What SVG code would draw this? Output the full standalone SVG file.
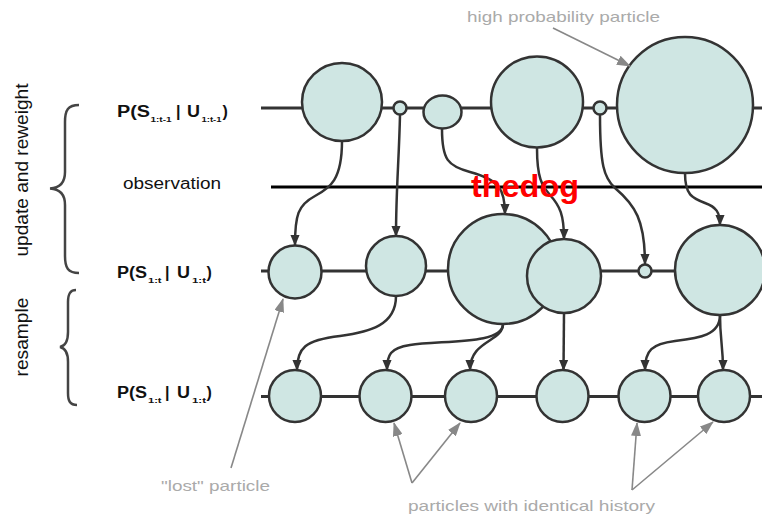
<svg xmlns="http://www.w3.org/2000/svg" width="762" height="517" viewBox="0 0 762 517">
<style>
.row{stroke:#333;stroke-width:3;fill:none}
.node{fill:#cfe6e3;stroke:#333;stroke-width:2.5}
.conn{fill:none;stroke:#333;stroke-width:2.5;marker-end:url(#ah)}
.gray{fill:none;stroke:#888;stroke-width:1.6;marker-end:url(#gh)}
.lbl{font-family:"Liberation Sans",Arial,sans-serif;font-weight:bold;font-size:16px;fill:#111}
.sub{font-family:"Liberation Sans",Arial,sans-serif;font-weight:bold;font-size:8px;fill:#111}
.txt{font-family:"Liberation Sans",Arial,sans-serif;font-size:16px;fill:#111}
.side{font-family:"Liberation Sans",Arial,sans-serif;font-size:18px;fill:#111}
.note{font-family:"Liberation Sans",Arial,sans-serif;font-size:15px;fill:#aaa}
.brace{fill:none;stroke:#444;stroke-width:2.5}
</style>
<defs>
<marker id="ah" viewBox="0 0 12 10" refX="11" refY="5" markerWidth="11" markerHeight="11" markerUnits="userSpaceOnUse" orient="auto">
<path d="M0,0 L12,5 L0,10 z" fill="#333"/>
</marker>
<marker id="gh" viewBox="0 0 14 10" refX="13" refY="5" markerWidth="14" markerHeight="10" markerUnits="userSpaceOnUse" orient="auto">
<path d="M0,0 L14,5 L0,10 z" fill="#888"/>
</marker>
</defs>

<!-- side labels and braces -->
<g id="side-labels">
<text class="side" transform="translate(28,256.5) rotate(-90)" textLength="173" lengthAdjust="spacingAndGlyphs">update and reweight</text>
<text class="side" transform="translate(28,376.5) rotate(-90)" textLength="79" lengthAdjust="spacingAndGlyphs">resample</text>
<path class="brace" d="M79,105 C68,105 65,110 65,122 L65,172 C65,182 60,188 50,188.5 C60,189 65,195 65,205 L65,256 C65,268 68,273 79,273"/>
<path class="brace" d="M76,290 C70,290 68,294 68,302 L68,332 C68,341 65,346 60,347 C65,348 68,353 68,362 L68,393 C68,401 70,405 77,405"/>
</g>

<!-- row labels -->
<g id="label-row1">
<text class="lbl" x="117" y="116.5" textLength="33" lengthAdjust="spacingAndGlyphs">P(S</text>
<text class="sub" x="150.5" y="121.5" textLength="21" lengthAdjust="spacingAndGlyphs">1:t-1</text>
<text class="lbl" x="176" y="116.5">|</text>
<text class="lbl" x="187" y="116.5" textLength="13" lengthAdjust="spacingAndGlyphs">U</text>
<text class="sub" x="201.5" y="121.5" textLength="20" lengthAdjust="spacingAndGlyphs">1:t-1</text>
<text class="lbl" x="222.5" y="116.5">)</text>
</g>
<g id="label-observation">
<text class="txt" x="123" y="188.5" textLength="98" lengthAdjust="spacingAndGlyphs">observation</text>
</g>
<g id="label-row2">
<text class="lbl" x="117" y="278.3" textLength="30" lengthAdjust="spacingAndGlyphs">P(S</text>
<text class="sub" x="148" y="282.5" textLength="13.5" lengthAdjust="spacingAndGlyphs">1:t</text>
<text class="lbl" x="165" y="278.3">|</text>
<text class="lbl" x="177" y="278.3" textLength="13" lengthAdjust="spacingAndGlyphs">U</text>
<text class="sub" x="192" y="282.5" textLength="14" lengthAdjust="spacingAndGlyphs">1:t</text>
<text class="lbl" x="206.5" y="278.3">)</text>
</g>
<g id="label-row3">
<text class="lbl" x="117" y="398.3" textLength="30" lengthAdjust="spacingAndGlyphs">P(S</text>
<text class="sub" x="148" y="402.5" textLength="13.5" lengthAdjust="spacingAndGlyphs">1:t</text>
<text class="lbl" x="165" y="398.3">|</text>
<text class="lbl" x="177" y="398.3" textLength="13" lengthAdjust="spacingAndGlyphs">U</text>
<text class="sub" x="192" y="402.5" textLength="14" lengthAdjust="spacingAndGlyphs">1:t</text>
<text class="lbl" x="206.5" y="398.3">)</text>
</g>

<!-- horizontal lines -->
<g id="lines">
<line class="row" x1="261" y1="108" x2="762" y2="108"/>
<line x1="271" y1="187" x2="762" y2="187" stroke="#000" stroke-width="3"/>
<line class="row" x1="261" y1="271" x2="762" y2="271"/>
<line class="row" x1="261" y1="396.5" x2="762" y2="396.5"/>
</g>

<!-- connectors -->
<g id="connectors">
<path class="conn" d="M342,141 C342,180 330,188 315,196 C298,205 295,215 295,245"/>
<path class="conn" d="M400,115 C399,160 396,190 396,236"/>
<path class="conn" d="M442,129 C442,160 448,166 470,172 C500,180 505,190 505,214"/>
<path class="conn" d="M537,148 C537,178 542,186 550,195 C560,206 564,215 564,239"/>
<path class="conn" d="M600,115 C600,165 604,178 615,188 C635,205 645,220 645,264"/>
<path class="conn" d="M685,173 C685,195 692,198 705,203 C716,207 720,212 720,225"/>
<path class="conn" d="M396,296 C396,325 370,332 340,336 C305,340 297,348 297,370"/>
<path class="conn" d="M503,324 C503,342 470,340 470,370"/>
<path class="conn" d="M503,324 C503,345 440,340 410,345 C390,348 387,355 387,370"/>
<path class="conn" d="M564,313 L563.5,370"/>
<path class="conn" d="M720,315 C720,340 723,345 723,370"/>
<path class="conn" d="M720,315 C720,335 700,338 675,341 C652,344 645,350 645,370"/>
</g>

<!-- row 1 nodes -->
<g id="n1a"><ellipse class="node" cx="342" cy="102" rx="40" ry="39"/></g>
<g id="n1b"><circle class="node" cx="400" cy="108" r="6.5"/></g>
<g id="n1c"><ellipse class="node" cx="442.5" cy="112" rx="19" ry="16.5"/></g>
<g id="n1d"><ellipse class="node" cx="537" cy="102" rx="46" ry="45.5"/></g>
<g id="n1e"><circle class="node" cx="600" cy="108" r="6.5"/></g>
<g id="n1f"><circle class="node" cx="685" cy="105" r="68"/></g>

<!-- row 2 nodes -->
<g id="n2a"><circle class="node" cx="295" cy="272" r="26.5"/></g>
<g id="n2b"><circle class="node" cx="396" cy="266" r="30"/></g>
<g id="n2c"><circle class="node" cx="503" cy="269" r="55"/></g>
<g id="n2d"><circle class="node" cx="564" cy="276" r="37"/></g>
<g id="n2e"><circle class="node" cx="645" cy="271" r="6.5"/></g>
<g id="n2f"><circle class="node" cx="720" cy="270" r="45"/></g>

<!-- row 3 nodes -->
<g id="n3a"><circle class="node" cx="295" cy="396" r="26"/></g>
<g id="n3b"><circle class="node" cx="385.5" cy="396" r="26"/></g>
<g id="n3c"><circle class="node" cx="471" cy="396" r="26"/></g>
<g id="n3d"><circle class="node" cx="562.5" cy="396" r="26"/></g>
<g id="n3e"><circle class="node" cx="644.5" cy="396" r="26"/></g>
<g id="n3f"><circle class="node" cx="724" cy="396" r="26"/></g>

<!-- red overlay text -->
<g id="thedog">
<text x="471" y="197" font-family="Liberation Sans, Arial, sans-serif" font-weight="bold" font-size="32" fill="#ff0000" textLength="108" lengthAdjust="spacingAndGlyphs">thedog</text>
</g>

<!-- annotations -->
<g id="annotations">
<text class="note" x="467" y="22" textLength="193" lengthAdjust="spacingAndGlyphs">high probability particle</text>
<path class="gray" d="M553,28 L630,66"/>
<text class="note" x="161" y="491" textLength="109" lengthAdjust="spacingAndGlyphs">"lost" particle</text>
<path class="gray" d="M231,468 L283,299"/>
<text class="note" x="408" y="511" textLength="247" lengthAdjust="spacingAndGlyphs">particles with identical history</text>
<path class="gray" d="M412,483 L394,423"/>
<path class="gray" d="M412,483 L460,423"/>
<path class="gray" d="M632,490 L637,423"/>
<path class="gray" d="M632,490 L713,422"/>
</g>
</svg>
